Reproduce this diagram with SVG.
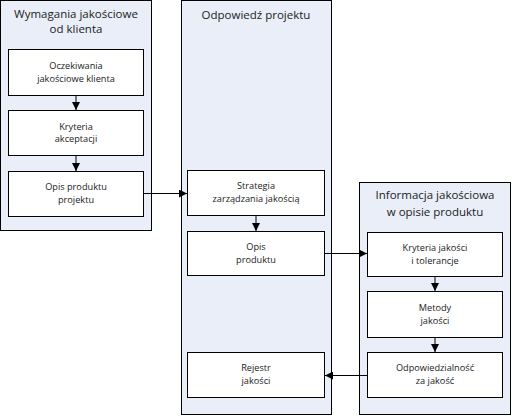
<svg xmlns="http://www.w3.org/2000/svg" width="512" height="417" viewBox="0 0 512 417">
<defs>
<style>
.cont{fill:#e9eef8;stroke:#000;stroke-width:1}
.box{fill:#fff;stroke:#000;stroke-width:1}
.title{font-family:"Open Sans","Noto Sans",sans-serif;font-size:11.5px;fill:#222;text-anchor:middle}
.lbl{font-family:"Open Sans","Noto Sans",sans-serif;font-size:9.2px;fill:#222;text-anchor:middle}
.conn{stroke:#000;stroke-width:1;fill:none;marker-end:url(#ah)}
</style>
<marker id="ah" viewBox="0 0 8 8" refX="8" refY="4" markerWidth="8" markerHeight="8" markerUnits="userSpaceOnUse" orient="auto">
<path d="M0,0 L8,4 L0,8 Z" fill="#000"/>
</marker>
</defs>
<rect width="512" height="417" fill="#fff"/>
<g id="grp-left">
<rect class="cont" x="0.5" y="0.5" width="151" height="230"/>
<text class="title" x="76" y="18">Wymagania jakościowe</text>
<text class="title" x="76" y="33">od klienta</text>
</g>
<g id="grp-mid">
<rect class="cont" x="181.5" y="0.5" width="150" height="414"/>
<text class="title" x="256" y="19">Odpowiedź projektu</text>
</g>
<g id="grp-right">
<rect class="cont" x="359.5" y="182.5" width="151" height="232"/>
<text class="title" x="435" y="199">Informacja jakościowa</text>
<text class="title" x="435" y="216">w opisie produktu</text>
</g>
<g id="n1"><rect class="box" x="8.5" y="49.5" width="135" height="46"/><text class="lbl" x="76" y="69">Oczekiwania</text><text class="lbl" x="76" y="82">jakościowe klienta</text></g>
<g id="n2"><rect class="box" x="8.5" y="110.5" width="135" height="45"/><text class="lbl" x="76" y="130">Kryteria</text><text class="lbl" x="76" y="142">akceptacji</text></g>
<g id="n3"><rect class="box" x="8.5" y="171.5" width="135" height="45"/><text class="lbl" x="76" y="190">Opis produktu</text><text class="lbl" x="76" y="203">projektu</text></g>
<g id="n4"><rect class="box" x="187.5" y="170.5" width="137" height="45"/><text class="lbl" x="256" y="189">Strategia</text><text class="lbl" x="256" y="202">zarządzania jakością</text></g>
<g id="n5"><rect class="box" x="187.5" y="231.5" width="137" height="44"/><text class="lbl" x="256" y="250">Opis</text><text class="lbl" x="256" y="263">produktu</text></g>
<g id="n6"><rect class="box" x="187.5" y="352.5" width="137" height="45"/><text class="lbl" x="256" y="371">Rejestr</text><text class="lbl" x="256" y="384">jakości</text></g>
<g id="n7"><rect class="box" x="367.5" y="232.5" width="135" height="44"/><text class="lbl" x="435" y="251">Kryteria jakości</text><text class="lbl" x="435" y="264">i tolerancje</text></g>
<g id="n8"><rect class="box" x="367.5" y="291.5" width="135" height="46"/><text class="lbl" x="435" y="311">Metody</text><text class="lbl" x="435" y="324">jakości</text></g>
<g id="n9"><rect class="box" x="367.5" y="352.5" width="135" height="45"/><text class="lbl" x="435" y="371">Odpowiedzialność</text><text class="lbl" x="435" y="384">za jakość</text></g>
<g id="connectors">
<line class="conn" x1="76" y1="96" x2="76" y2="110"/>
<line class="conn" x1="76" y1="156" x2="76" y2="171"/>
<line class="conn" x1="144" y1="193.5" x2="187" y2="193.5"/>
<line class="conn" x1="256" y1="216" x2="256" y2="231"/>
<line class="conn" x1="325" y1="253.5" x2="367" y2="253.5"/>
<line class="conn" x1="435" y1="277" x2="435" y2="291"/>
<line class="conn" x1="435" y1="338" x2="435" y2="352"/>
<line class="conn" x1="367" y1="375.5" x2="325" y2="375.5"/>
</g>
</svg>
